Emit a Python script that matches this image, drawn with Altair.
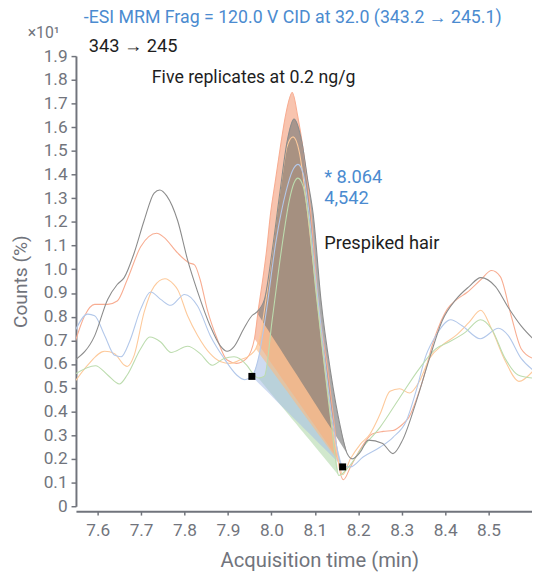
import altair as alt
import pandas as pd

# ---------------- data ----------------
series_names = ["r1", "r2", "r3", "r4", "r5"]   # salmon, peach, blue, green, gray

r1_t = [7.548, 7.570, 7.593, 7.623, 7.645, 7.668, 7.699, 7.736, 7.752, 7.784, 7.811, 7.823, 7.836, 7.852,
        7.875, 7.898, 7.920, 7.943, 7.961, 7.970, 7.980, 7.989, 7.998, 8.009, 8.020, 8.034, 8.048, 8.061,
        8.073, 8.091, 8.107, 8.130, 8.148, 8.153, 8.166, 8.182, 8.205, 8.232, 8.257, 8.280, 8.302, 8.316,
        8.345, 8.375, 8.405, 8.427, 8.450, 8.482, 8.507, 8.527, 8.552, 8.575, 8.602]
r1_v = [0.693, 0.804, 0.852, 0.852, 0.866, 0.956, 1.095, 1.152, 1.136, 1.069, 1.027, 1.019, 0.956, 0.832,
        0.707, 0.617, 0.603, 0.624, 0.707, 0.832, 0.956, 1.081, 1.235, 1.372, 1.509, 1.663, 1.746, 1.642,
        1.509, 1.235, 0.873, 0.570, 0.291, 0.200, 0.112, 0.166, 0.241, 0.305, 0.316, 0.320, 0.346, 0.374,
        0.511, 0.707, 0.832, 0.873, 0.902, 0.956, 0.995, 0.969, 0.804, 0.665, 0.624]

r2_t = [7.548, 7.577, 7.616, 7.639, 7.661, 7.668, 7.684, 7.707, 7.730, 7.755, 7.775, 7.784, 7.807, 7.830,
        7.859, 7.882, 7.905, 7.927, 7.950, 7.964, 7.977, 7.989, 8.005, 8.023, 8.036, 8.050, 8.064, 8.080,
        8.098, 8.118, 8.141, 8.155, 8.164, 8.182, 8.205, 8.227, 8.250, 8.273, 8.295, 8.318, 8.341, 8.364,
        8.393, 8.425, 8.455, 8.482, 8.507, 8.539, 8.570, 8.602]
r2_v = [0.527, 0.596, 0.654, 0.644, 0.596, 0.590, 0.637, 0.819, 0.928, 0.960, 0.936, 0.915, 0.804, 0.721,
        0.644, 0.611, 0.603, 0.617, 0.637, 0.665, 0.748, 0.894, 1.123, 1.372, 1.518, 1.559, 1.497, 1.289,
        0.998, 0.665, 0.333, 0.187, 0.133, 0.200, 0.262, 0.305, 0.388, 0.485, 0.496, 0.478, 0.528, 0.624,
        0.679, 0.721, 0.776, 0.827, 0.748, 0.611, 0.527, 0.570]

r3_t = [7.548, 7.577, 7.593, 7.616, 7.639, 7.654, 7.673, 7.699, 7.722, 7.745, 7.768, 7.800, 7.830, 7.859,
        7.891, 7.920, 7.939, 7.955, 7.970, 7.989, 8.011, 8.034, 8.048, 8.061, 8.073, 8.086, 8.102, 8.120,
        8.143, 8.164, 8.182, 8.211, 8.250, 8.280, 8.311, 8.333, 8.356, 8.379, 8.413, 8.439, 8.481, 8.523,
        8.545, 8.575, 8.602]
r3_v = [0.741, 0.811, 0.804, 0.721, 0.637, 0.631, 0.693, 0.832, 0.904, 0.873, 0.848, 0.894, 0.845, 0.721,
        0.624, 0.554, 0.534, 0.548, 0.624, 0.832, 1.123, 1.331, 1.414, 1.443, 1.405, 1.247, 0.956, 0.665,
        0.333, 0.166, 0.166, 0.208, 0.249, 0.291, 0.362, 0.486, 0.637, 0.721, 0.787, 0.762, 0.707, 0.751,
        0.721, 0.624, 0.575]

r4_t = [7.548, 7.595, 7.623, 7.650, 7.668, 7.699, 7.720, 7.745, 7.769, 7.807, 7.836, 7.864, 7.891, 7.914,
        7.943, 7.957, 7.970, 7.984, 8.002, 8.023, 8.041, 8.052, 8.061, 8.073, 8.086, 8.102, 8.120, 8.139,
        8.155, 8.182, 8.205, 8.250, 8.295, 8.341, 8.379, 8.409, 8.447, 8.481, 8.507, 8.538, 8.568, 8.602]
r4_v = [0.558, 0.593, 0.554, 0.516, 0.554, 0.665, 0.714, 0.693, 0.649, 0.675, 0.644, 0.595, 0.624, 0.631,
        0.596, 0.561, 0.541, 0.549, 0.790, 1.081, 1.289, 1.364, 1.385, 1.351, 1.206, 0.915, 0.624, 0.333,
        0.130, 0.175, 0.237, 0.333, 0.457, 0.582, 0.665, 0.693, 0.735, 0.787, 0.748, 0.624, 0.554, 0.541]

r5_t = [7.548, 7.593, 7.623, 7.645, 7.661, 7.684, 7.707, 7.730, 7.743, 7.759, 7.784, 7.807, 7.830, 7.859,
        7.882, 7.898, 7.914, 7.936, 7.955, 7.966, 7.984, 8.002, 8.020, 8.036, 8.052, 8.070, 8.084, 8.096,
        8.114, 8.136, 8.159, 8.175, 8.186, 8.205, 8.223, 8.255, 8.280, 8.302, 8.334, 8.364, 8.393, 8.425,
        8.455, 8.482, 8.516, 8.545, 8.575, 8.602]
r5_v = [0.617, 0.719, 0.873, 0.936, 0.965, 1.069, 1.206, 1.322, 1.335, 1.310, 1.206, 1.040, 0.906, 0.761,
        0.678, 0.654, 0.674, 0.748, 0.804, 0.819, 0.873, 1.081, 1.331, 1.538, 1.634, 1.538, 1.372, 1.235,
        0.873, 0.570, 0.333, 0.220, 0.200, 0.229, 0.279, 0.266, 0.222, 0.279, 0.445, 0.624, 0.782, 0.873,
        0.927, 0.965, 0.927, 0.840, 0.761, 0.707]

# integration start / end retention times of each replicate
peak_start = [7.961, 7.964, 7.955, 7.970, 7.966]
peak_end = [8.153, 8.155, 8.164, 8.155, 8.175]

line_colors = ["#f8ad92", "#fdca9c", "#b3c8ea", "#bcdcae", "#8c8c8c"]
fill_colors = ["#f49f7e", "#fbbb82", "#a6bde6", "#a3d29c", "#777777"]
fill_opacity = [0.62, 0.6, 0.55, 0.5, 0.62]
fill_order = [3, 2, 0, 1, 4]          # green, blue, salmon, peach, gray on top

x_ticks = [7.6, 7.7, 7.8, 7.9, 8.0, 8.1, 8.2, 8.3, 8.4, 8.5]
y_ticks = [0, 0.1, 0.2, 0.3, 0.4, 0.5, 0.6, 0.7, 0.8, 0.9, 1.0, 1.1, 1.2, 1.3, 1.4, 1.5, 1.6, 1.7, 1.8, 1.9]

# ---------------- tables ----------------
all_t = [r1_t, r2_t, r3_t, r4_t, r5_t]
all_v = [r1_v, r2_v, r3_v, r4_v, r5_v]

line_rows = []
for name, ts, vs in zip(series_names, all_t, all_v):
    for t, v in zip(ts, vs):
        line_rows.append({"series": name, "t": t, "v": v})
lines_df = pd.DataFrame(line_rows)

fill_tables = []
marker_rows = []
for name, ts, vs, t0, t1 in zip(series_names, all_t, all_v, peak_start, peak_end):
    pts = [(t, v) for t, v in zip(ts, vs) if t0 <= t <= t1]
    v0 = pts[0][1]
    v1 = pts[-1][1]
    rows = []
    for t, v in pts:
        base = v0 + (v1 - v0) * (t - t0) / (t1 - t0)
        rows.append({"series": name, "t": t, "v": v, "base": base})
    fill_tables.append(pd.DataFrame(rows))
    if name == "r3":
        marker_rows = [{"t": t0, "v": v0}, {"t": t1, "v": v1}]
markers_df = pd.DataFrame(marker_rows)

# ---------------- chart ----------------
GRAY = "#71747c"
BLUE = "#4b8bd0"
FONT = "Roboto"

x_enc = alt.X("t:Q",
              scale=alt.Scale(domain=[7.55, 8.6], nice=False, zero=False),
              axis=alt.Axis(values=x_ticks, format=".1f", title="Acquisition time (min)",
                            offset=5, grid=False, labelFontSize=17.5, titleFontSize=20.5,
                            labelColor=GRAY, titleColor=GRAY, domainColor=GRAY, tickColor=GRAY,
                            domainWidth=2, tickWidth=1.5, tickSize=4, labelPadding=7,
                            titlePadding=12, titleX=247, titleAlign="center",
                            titleFontWeight="normal", labelFont=FONT, titleFont=FONT,
                            labelFlush=False))
y_enc = alt.Y("v:Q",
              scale=alt.Scale(domain=[0, 1.9], nice=False, zero=True),
              axis=alt.Axis(values=y_ticks, labelExpr="datum.value === 0 ? '0' : format(datum.value, '.1f')",
                            title="Counts (%)", grid=False, labelFontSize=17.5, titleFontSize=19.5,
                            labelColor=GRAY, titleColor=GRAY, domainColor=GRAY, tickColor=GRAY,
                            domainWidth=2, tickWidth=1.5, tickSize=5, labelPadding=4,
                            titlePadding=13, titleFontWeight="normal", labelFont=FONT, titleFont=FONT,
                            labelFlush=False))

layers = []
for i in fill_order:
    layers.append(
        alt.Chart(fill_tables[i]).mark_area(interpolate="monotone", clip=True, color=fill_colors[i],
                                            fillOpacity=fill_opacity[i]).encode(x=x_enc, y=y_enc, y2="base:Q")
    )

lines = alt.Chart(lines_df).mark_line(interpolate="monotone", clip=True, strokeWidth=1.1).encode(
    x=x_enc, y=y_enc,
    color=alt.Color("series:N", scale=alt.Scale(domain=series_names, range=line_colors), legend=None),
)
layers.append(lines)

markers = alt.Chart(markers_df).mark_square(size=50, color="black", opacity=1, filled=True).encode(
    x=x_enc, y=y_enc)
layers.append(markers)

one = pd.DataFrame({"a": [0]})


def label(text, x, y, color, size=18.5):
    return alt.Chart(one).mark_text(text=text, align="left", baseline="middle", fontSize=size,
                                    font=FONT, color=color).encode(x=alt.value(x), y=alt.value(y))


layers += [
    label("-ESI MRM Frag = 120.0 V CID at 32.0 (343.2 \u2192 245.1)", 8, -38.5, BLUE, 18),
    label("\u00d710\u00b9", -49, -23.5, GRAY, 16),
    label("343 \u2192 245", 13, -10.5, "#1e1e1e"),
    label("Five replicates at 0.2 ng/g", 77, 22.5, "#1e1e1e", 18),
    label("* 8.064", 252, 123, BLUE),
    label("4,542", 252, 144.5, BLUE),
    label("Prespiked hair", 252, 189.5, "#1e1e1e"),
]

chart = alt.layer(*layers).properties(
    width=463, height=457,
    autosize=alt.AutoSizeParams(type="none"),
    padding={"left": 69, "top": 44.5, "right": 0, "bottom": 66},
).configure_view(strokeWidth=0)

chart.save("out.html", embed_options={"renderer": "svg", "actions": False})
